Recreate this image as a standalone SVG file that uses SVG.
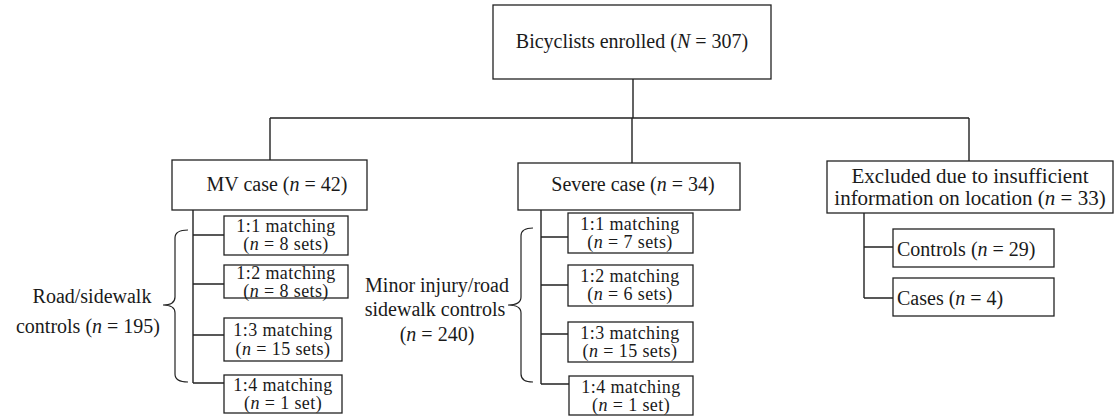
<svg xmlns="http://www.w3.org/2000/svg" width="1114" height="416" viewBox="0 0 1114 416">
<style>
text{font-family:"Liberation Serif","Times New Roman",serif;font-size:20px;fill:#1a1a1a}
.c{text-anchor:middle}
.i{font-style:italic}
.s{font-size:18px;letter-spacing:0.4px}
.x{font-size:21px}
.bx{fill:#fff;stroke:#222;stroke-width:1.3}
.ln{fill:none;stroke:#222;stroke-width:1.4}
.br{fill:none;stroke:#222;stroke-width:1.2}
</style>
<rect width="1114" height="416" fill="#fff"/>
<g id="connectors">
<path class="ln" d="M633,79 V118 M270,118 H969 M270,118 V160 M632,118 V163 M969,118 V161"/>
<path class="ln" d="M193,210 V383 M193,235 H224 M193,284 H224 M193,335 H224 M193,383 H224"/>
<path class="ln" d="M541,210 V384 M541,237 H568 M541,285 H568 M541,334 H568 M541,384 H569"/>
<path class="ln" d="M864,213 V298 M864,247 H893 M864,298 H893"/>
<path class="br" d="M188,230 Q175,230 175,238 V297 Q175,305 163,305 Q175,305 175,313 V374 Q175,382 188,382"/>
<path class="br" d="M533,228 Q521,228 521,236 V297 Q521,305 508,305 Q521,305 521,313 V374 Q521,382 533,382"/>
</g>
<g id="enrolled">
<rect class="bx" x="493" y="5" width="278" height="74"/>
<text x="632" y="48" class="c">Bicyclists enrolled (<tspan class="i">N</tspan> = 307)</text>
</g>
<g id="mv-case">
<rect class="bx" x="172" y="160" width="195" height="50"/>
<text x="277" y="191" class="c">MV case (<tspan class="i">n</tspan> = 42)</text>
</g>
<g id="severe-case">
<rect class="bx" x="518" y="163" width="222" height="47"/>
<text x="633" y="191" class="c">Severe case (<tspan class="i">n</tspan> = 34)</text>
</g>
<g id="excluded">
<rect class="bx" x="827" y="161" width="286" height="52"/>
<text x="970" y="183" class="c x">Excluded due to insufficient</text>
<text x="970" y="205" class="c x">information on location (<tspan class="i">n</tspan> = 33)</text>
</g>
<g id="mv-11">
<rect class="bx" x="224" y="216" width="124" height="39"/>
<text x="286" y="232" class="c s">1:1 matching</text>
<text x="286" y="250" class="c s">(<tspan class="i">n</tspan> = 8 sets)</text>
</g>
<g id="mv-12">
<rect class="bx" x="224" y="265" width="124" height="33"/>
<text x="286" y="279" class="c s">1:2 matching</text>
<text x="286" y="297" class="c s">(<tspan class="i">n</tspan> = 8 sets)</text>
</g>
<g id="mv-13">
<rect class="bx" x="224" y="318" width="118" height="43"/>
<text x="283" y="336" class="c s">1:3 matching</text>
<text x="283" y="355" class="c s">(<tspan class="i">n</tspan> = 15 sets)</text>
</g>
<g id="mv-14">
<rect class="bx" x="224" y="375" width="118" height="38"/>
<text x="283" y="391" class="c s">1:4 matching</text>
<text x="283" y="409" class="c s">(<tspan class="i">n</tspan> = 1 set)</text>
</g>
<g id="sev-11">
<rect class="bx" x="568" y="213" width="125" height="40"/>
<text x="630" y="230" class="c s">1:1 matching</text>
<text x="630" y="248" class="c s">(<tspan class="i">n</tspan> = 7 sets)</text>
</g>
<g id="sev-12">
<rect class="bx" x="568" y="265" width="125" height="41"/>
<text x="630" y="282" class="c s">1:2 matching</text>
<text x="630" y="300" class="c s">(<tspan class="i">n</tspan> = 6 sets)</text>
</g>
<g id="sev-13">
<rect class="bx" x="568" y="322" width="125" height="40"/>
<text x="630" y="339" class="c s">1:3 matching</text>
<text x="630" y="357" class="c s">(<tspan class="i">n</tspan> = 15 sets)</text>
</g>
<g id="sev-14">
<rect class="bx" x="569" y="376" width="124" height="39"/>
<text x="631" y="393" class="c s">1:4 matching</text>
<text x="631" y="411" class="c s">(<tspan class="i">n</tspan> = 1 set)</text>
</g>
<g id="exc-controls">
<rect class="bx" x="893" y="229" width="161" height="38"/>
<text x="897" y="256">Controls (<tspan class="i">n</tspan> = 29)</text>
</g>
<g id="exc-cases">
<rect class="bx" x="893" y="278" width="161" height="38"/>
<text x="897" y="305">Cases (<tspan class="i">n</tspan> = 4)</text>
</g>
<g id="label-road">
<text x="92" y="303" class="c">Road/sidewalk</text>
<text x="88" y="333" class="c">controls (<tspan class="i">n</tspan> = 195)</text>
</g>
<g id="label-minor">
<text x="437" y="292" class="c">Minor injury/road</text>
<text x="435" y="316" class="c">sidewalk controls</text>
<text x="437" y="341" class="c">(<tspan class="i">n</tspan> = 240)</text>
</g>
</svg>
